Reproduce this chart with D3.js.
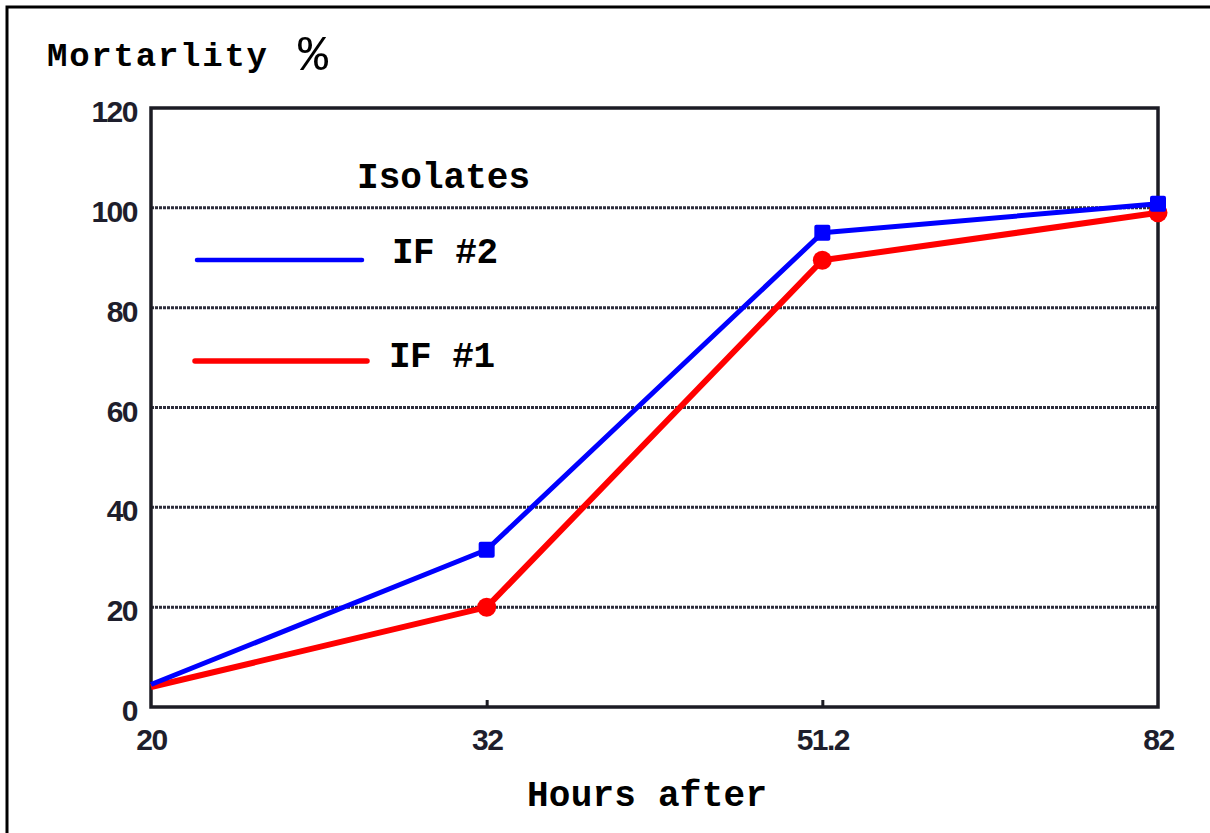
<!DOCTYPE html>
<html>
<head>
<meta charset="utf-8">
<script src="https://cdn.jsdelivr.net/npm/d3@7"></script>
<style>
html,body{margin:0;padding:0;background:#fff;}
svg{display:block;}
</style>
</head>
<body>
<svg id="chart" width="1210" height="833"></svg>
<script>
const categories = ["20", "32", "51.2", "82"];
const seriesIF2 = [4.5, 31.5, 95, 100.8];
const seriesIF1 = [4, 20, 89.5, 99];
const yTicks = [0, 20, 40, 60, 80, 100, 120];
const seriesNames = ["IF #2", "IF #1"];
const seriesColors = ["#0000ff", "#ff0000"];

const svg = d3.select("#chart");
const plotL = 151, plotR = 1158, plotT = 108, plotB = 707;

const x = d3.scalePoint().domain(categories).range([plotL, plotR]);
const y = d3.scaleLinear().domain([0, 120]).range([plotB, plotT]);

// outer frame (extends past right/bottom edges)
svg.append("rect").attr("x", 7).attr("y", 7).attr("width", 1400).attr("height", 1000)
  .attr("fill", "none").attr("stroke", "#000").attr("stroke-width", 3);

// gridlines
svg.append("g").selectAll("line").data(yTicks.filter(d => d > 0 && d < 120)).join("line")
  .attr("x1", plotL).attr("x2", plotR)
  .attr("y1", d => y(d)).attr("y2", d => y(d))
  .attr("stroke", "#2e2e3c").attr("stroke-width", 3).attr("stroke-dasharray", "3,1");

// plot frame
svg.append("rect").attr("x", plotL).attr("y", plotT).attr("width", plotR - plotL).attr("height", plotB - plotT)
  .attr("fill", "none").attr("stroke", "#1c1c24").attr("stroke-width", 3.5);

// y axis labels
const yAxis = d3.axisLeft(y).tickValues(yTicks).tickSize(0).tickPadding(14).tickFormat(d3.format("d"));
const gy = svg.append("g").attr("transform", `translate(${plotL},0)`).call(yAxis);
gy.select(".domain").remove();
gy.selectAll("text").attr("font-family", "Liberation Sans, Arial, sans-serif").attr("font-weight", "bold")
  .attr("font-size", 30).attr("letter-spacing", -1.5).attr("fill", "#1e1e2c").attr("dy", "0.45em");

// x axis
const xAxis = d3.axisBottom(x).tickSize(-7).tickPadding(22);
const gx = svg.append("g").attr("transform", `translate(0,${plotB})`).call(xAxis);
gx.select(".domain").remove();
gx.selectAll(".tick line").attr("stroke", "#1c1c24").attr("stroke-width", 3)
  .attr("display", (d, i) => (i === 0 || i === categories.length - 1) ? "none" : null);
gx.selectAll("text").attr("font-family", "Liberation Sans, Arial, sans-serif").attr("font-weight", "bold")
  .attr("font-size", 30).attr("letter-spacing", -1.5).attr("fill", "#1e1e2c");

// lines
const line = d3.line().x((d, i) => x(categories[i])).y(d => y(d));
svg.append("path").datum(seriesIF1).attr("d", line).attr("fill", "none")
  .attr("stroke", seriesColors[1]).attr("stroke-width", 6).attr("stroke-linejoin", "round");
svg.append("path").datum(seriesIF2).attr("d", line).attr("fill", "none")
  .attr("stroke", seriesColors[0]).attr("stroke-width", 5).attr("stroke-linejoin", "round");

// markers
svg.append("g").selectAll("circle").data(seriesIF1).join("circle")
  .attr("cx", (d, i) => x(categories[i])).attr("cy", d => y(d)).attr("r", 9.5)
  .attr("fill", seriesColors[1]).attr("display", (d, i) => i === 0 ? "none" : null);
svg.append("g").selectAll("rect").data(seriesIF2).join("rect")
  .attr("x", (d, i) => x(categories[i]) - 8).attr("y", d => y(d) - 8).attr("width", 16).attr("height", 16)
  .attr("rx", 2)
  .attr("fill", seriesColors[0]).attr("display", (d, i) => i === 0 ? "none" : null);

const mono = "Liberation Mono, Courier New, monospace";
function monoText(txt, xx, yy, len, size) {
  return svg.append("text").attr("x", xx).attr("y", yy).text(txt)
    .attr("font-family", mono).attr("font-weight", "bold").attr("font-size", size || 36)
    .attr("fill", "#000").attr("textLength", len).attr("lengthAdjust", "spacing");
}
monoText("Mortarlity", 47, 66, 220, 34);
svg.append("text").attr("x", 298).attr("y", 70).text("%")
  .attr("font-family", mono).attr("font-size", 50).attr("fill", "#000");
monoText("Isolates", 357, 188, 173);
monoText("Hours after", 527, 806, 240);

// legend
const legY = [260, 361];
const legX1 = [197, 195], legX2 = [362, 367], legTX = [392, 389], legTY = [263, 367];
seriesNames.forEach((name, i) => {
  svg.append("line").attr("x1", legX1[i]).attr("x2", legX2[i]).attr("y1", legY[i]).attr("y2", legY[i])
    .attr("stroke", seriesColors[i]).attr("stroke-width", i === 0 ? 4.5 : 5.5).attr("stroke-linecap", "round");
  monoText(name, legTX[i], legTY[i], 106);
});
</script>
</body>
</html>
